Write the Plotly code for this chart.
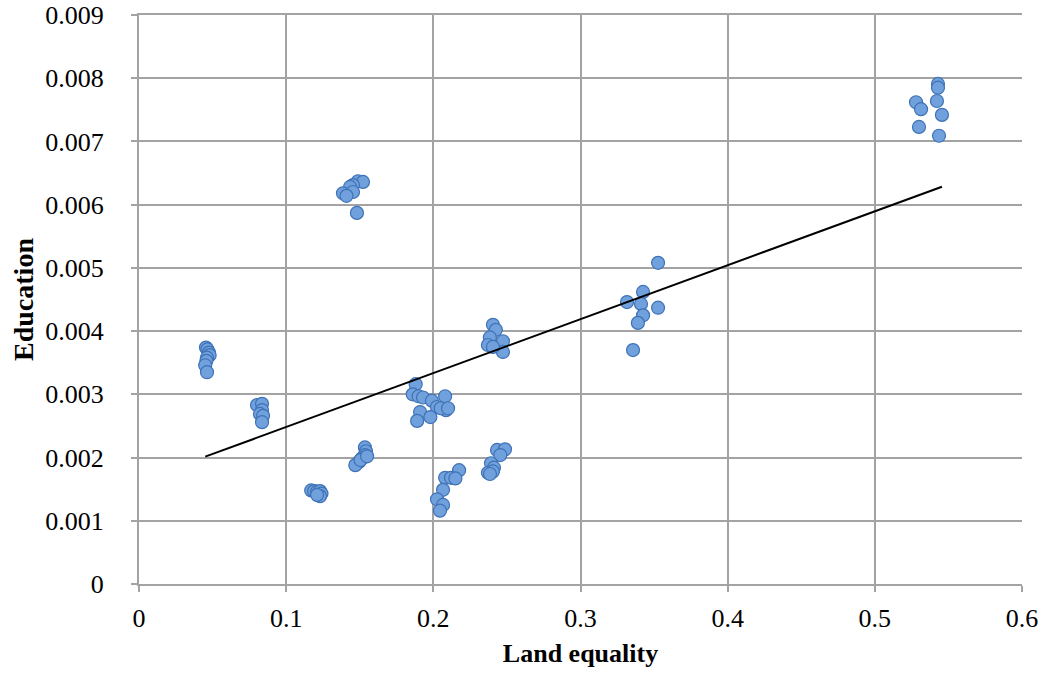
import plotly.graph_objects as go

# Data
land_equality = [
    0.0455, 0.0465, 0.0475, 0.0480, 0.0462, 0.0458, 0.0450, 0.0462,
    0.0802, 0.0836, 0.0836, 0.0822, 0.0843, 0.0836,
    0.117, 0.119, 0.121, 0.123, 0.124, 0.123, 0.121,
    0.1535, 0.1542, 0.1535, 0.1515, 0.1495, 0.147, 0.1505, 0.155,
    0.188, 0.186, 0.190, 0.193, 0.199, 0.208, 0.2025, 0.2086, 0.205, 0.191, 0.198, 0.189, 0.210,
    0.2175, 0.208, 0.212, 0.215, 0.2066, 0.2025, 0.2066, 0.2045,
    0.2433, 0.2487, 0.2455, 0.2392, 0.2412, 0.2371, 0.2405, 0.2385,
    0.2405, 0.2425, 0.2384, 0.2473, 0.2371, 0.2473, 0.2405,
    0.3527, 0.3425, 0.3316, 0.3411, 0.3527, 0.3425, 0.3390, 0.3357,
    0.5429, 0.5429, 0.5280, 0.5314, 0.5422, 0.5456, 0.5300, 0.5436,
    0.1488, 0.1522, 0.1454, 0.1434, 0.1386, 0.1454, 0.1481, 0.1410,
]
education = [
    0.00374, 0.00371, 0.00366, 0.00362, 0.00358, 0.00353, 0.00346, 0.00335,
    0.00283, 0.00285, 0.00275, 0.00269, 0.00266, 0.00256,
    0.00148, 0.00147, 0.00146, 0.00147, 0.00143, 0.00139, 0.00141,
    0.00216, 0.00210, 0.00204, 0.00199, 0.00193, 0.00188, 0.00196, 0.00202,
    0.00316, 0.00300, 0.00297, 0.00295, 0.00290, 0.00297, 0.00280, 0.00275, 0.00278, 0.00272, 0.00264, 0.00258, 0.00278,
    0.00180, 0.00168, 0.00168, 0.00167, 0.00149, 0.00134, 0.00125, 0.00116,
    0.00212, 0.00213, 0.00204, 0.00191, 0.00184, 0.00176, 0.00178, 0.00174,
    0.00410, 0.00402, 0.00390, 0.00384, 0.00378, 0.00367, 0.00375,
    0.00508, 0.00462, 0.00446, 0.00443, 0.00437, 0.00425, 0.00413, 0.00370,
    0.00791, 0.00785, 0.00762, 0.00751, 0.00764, 0.00742, 0.00723, 0.00709,
    0.00637, 0.00636, 0.00631, 0.00628, 0.00618, 0.00620, 0.00587, 0.00614,
]

# Linear trendline as shown on the chart
trend_slope = 0.00853
trend_intercept = 0.00163

x_tick_vals = [0, 0.1, 0.2, 0.3, 0.4, 0.5, 0.6]
x_tick_text = ["0", "0.1", "0.2", "0.3", "0.4", "0.5", "0.6"]
y_tick_vals = [0, 0.001, 0.002, 0.003, 0.004, 0.005, 0.006, 0.007, 0.008, 0.009]
y_tick_text = ["0", "0.001", "0.002", "0.003", "0.004", "0.005", "0.006", "0.007", "0.008", "0.009"]

trend_x = [min(land_equality), max(land_equality)]
trend_y = [trend_intercept + trend_slope * v for v in trend_x]

FONT = "Liberation Serif"
GRID = "#a3a3a3"

fig = go.Figure()
fig.add_trace(go.Scatter(
    x=land_equality, y=education, mode="markers",
    marker=dict(size=13, color="#70a1dd", line=dict(color="#3f72b6", width=1.2)),
    showlegend=False, hoverinfo="x+y",
))
fig.add_trace(go.Scatter(
    x=trend_x, y=trend_y, mode="lines",
    line=dict(color="black", width=2),
    showlegend=False, hoverinfo="skip",
))

fig.update_layout(
    width=1046, height=679,
    margin=dict(l=139, r=24, t=15, b=95),
    paper_bgcolor="white", plot_bgcolor="white",
    font=dict(family=FONT, size=26, color="black"),
)
fig.update_xaxes(
    range=[0, 0.6], tickvals=x_tick_vals, ticktext=x_tick_text,
    showgrid=True, gridcolor=GRID, gridwidth=2,
    showline=True, linecolor=GRID, linewidth=2, mirror=True,
    ticks="outside", ticklen=6, tickwidth=2, tickcolor=GRID,
    zeroline=False, automargin=False, ticklabeloverflow="allow",
    tickfont=dict(family=FONT, size=26),
    ticklabelstandoff=4,
    title=dict(text="<b>Land equality</b>", font=dict(family=FONT, size=26), standoff=12),
)
fig.update_yaxes(
    range=[0, 0.009], tickvals=y_tick_vals, ticktext=y_tick_text,
    showgrid=True, gridcolor=GRID, gridwidth=2,
    showline=True, linecolor=GRID, linewidth=2,
    ticks="outside", ticklen=6, tickwidth=2, tickcolor=GRID,
    zeroline=False, automargin=False, ticklabeloverflow="allow",
    tickfont=dict(family=FONT, size=26),
    ticklabelstandoff=22,
    title=dict(text="<b>Education</b>", font=dict(family=FONT, size=28), standoff=3),
)

fig.write_html(
    "out.html",
    config={"displayModeBar": False},
    post_script="document.body.style.margin='0px';document.body.style.overflow='hidden';",
)
